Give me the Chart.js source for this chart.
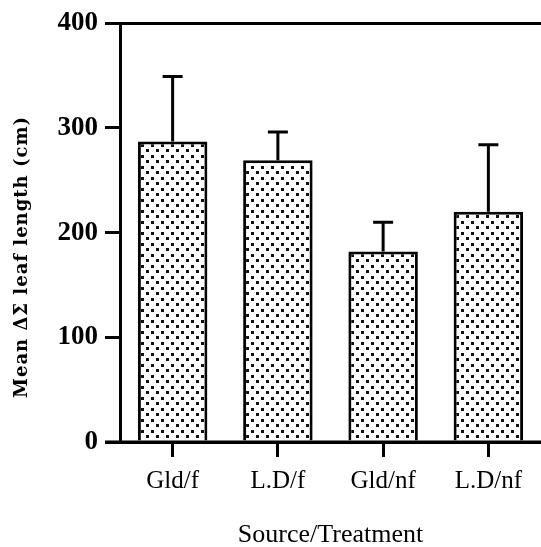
<!DOCTYPE html>
<html>
<head>
<meta charset="utf-8">
<script src="https://cdn.jsdelivr.net/npm/chart.js@4"></script>
<style>
  html, body { margin: 0; padding: 0; background: #fff; }
  #wrap { width: 541px; height: 547px; }
</style>
</head>
<body>
<div id="wrap"><canvas id="chart-leaf"></canvas></div>
<script>
const labelsTreatment = ["Gld/f", "L.D/f", "Gld/nf", "L.D/nf"];
const meanLeafLength = [287, 269, 182, 220];
const errorLeafLength = [62, 27, 28, 64];
const ticksLeafLength = [0, 100, 200, 300, 400];

// stipple fill like the printed figure
const dotTile = document.createElement("canvas");
dotTile.width = 10;
dotTile.height = 11;
const dotCtx = dotTile.getContext("2d");
dotCtx.fillStyle = "#ffffff";
dotCtx.fillRect(0, 0, 10, 11);
dotCtx.fillStyle = "#111111";
dotCtx.fillRect(1, 1, 3, 3);
dotCtx.fillRect(6, 6, 3, 3);

const ctxLeaf = document.querySelector("#chart-leaf").getContext("2d");
const dotPattern = ctxLeaf.createPattern(dotTile, "repeat");

const errorBarsPlugin = {
  id: "errorBars",
  afterDatasetsDraw(chart) {
    const { ctx } = chart;
    const yScale = chart.scales.y;
    const meta = chart.getDatasetMeta(0);
    ctx.save();
    ctx.strokeStyle = "#000";
    ctx.lineWidth = 3;
    meta.data.forEach((bar, i) => {
      const top = yScale.getPixelForValue(meanLeafLength[i] + errorLeafLength[i]);
      ctx.beginPath();
      ctx.moveTo(bar.x, bar.y);
      ctx.lineTo(bar.x, top);
      ctx.moveTo(bar.x - 10, top);
      ctx.lineTo(bar.x + 10, top);
      ctx.stroke();
    });
    ctx.restore();
  },
};

const framePlugin = {
  id: "frame",
  afterDraw(chart) {
    const { ctx, chartArea } = chart;
    ctx.save();
    ctx.strokeStyle = "#000";
    ctx.lineWidth = 3;
    ctx.beginPath();
    ctx.moveTo(chartArea.left - 15, chartArea.bottom);
    ctx.lineTo(chart.width, chartArea.bottom);
    ctx.stroke();
    // rotated y title, centred a little below the plot middle as in the print
    ctx.translate(22, 257);
    ctx.rotate(-Math.PI / 2);
    ctx.fillStyle = "#000";
    ctx.font = "bold 18px 'DejaVu Serif'";
    ctx.letterSpacing = "1px";
    ctx.textAlign = "center";
    ctx.textBaseline = "middle";
    ctx.fillText("Mean \u0394\u03a3 leaf length (cm)", 0, 0);
    ctx.restore();
  },
};

new Chart(ctxLeaf, {
  type: "bar",
  data: {
    labels: labelsTreatment,
    datasets: [
      {
        data: meanLeafLength,
        backgroundColor: dotPattern,
        borderColor: "#000",
        borderWidth: 3,
        categoryPercentage: 1,
        barPercentage: 0.66,
      },
    ],
  },
  options: {
    animation: false,
    responsive: true,
    maintainAspectRatio: false,
    layout: { padding: { top: 22, right: 0, bottom: 0, left: 0 } },
    plugins: {
      legend: { display: false },
      tooltip: { enabled: false },
    },
    scales: {
      x: {
        afterFit: (scale) => { scale.height = 105; },
        grid: {
          offset: false,
          drawOnChartArea: false,
          color: "#000",
          lineWidth: 3,
          tickLength: 15,
        },
        border: { color: "#000", width: 3 },
        ticks: {
          color: "#000",
          padding: 9,
          font: { family: "'Liberation Serif'", size: 25 },
        },
        title: {
          display: true,
          text: "Source/Treatment",
          color: "#000",
          padding: { top: 0, bottom: -4 },
          font: { family: "'Liberation Serif'", size: 26 },
        },
      },
      y: {
        min: 0,
        max: 400,
        afterFit: (scale) => { scale.width = 120; },
        afterBuildTicks: (scale) => {
          scale.ticks = ticksLeafLength.map((v) => ({ value: v }));
        },
        grid: {
          color: (c) => (c.tick && c.tick.value === 400 ? "#000" : "rgba(0,0,0,0)"),
          tickColor: "#000",
          lineWidth: 3,
          tickLength: 15,
        },
        border: { color: "#000", width: 3 },
        ticks: {
          color: "#000",
          padding: 7,
          font: { family: "'Liberation Serif'", size: 27, weight: "bold" },
        },
      },
    },
  },
  plugins: [errorBarsPlugin, framePlugin],
});
</script>
</body>
</html>
